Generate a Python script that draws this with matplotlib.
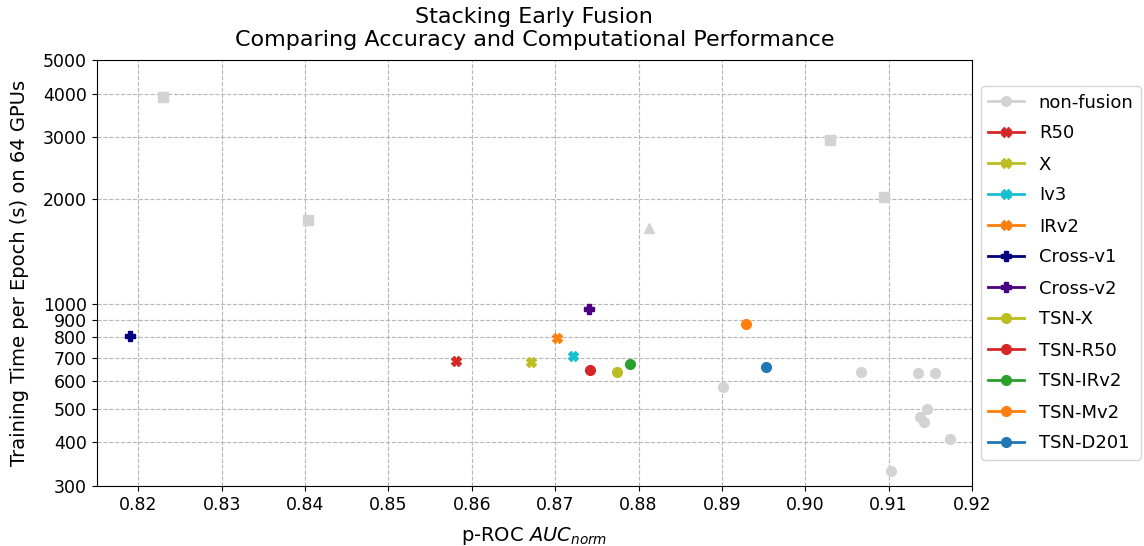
import numpy as np
import matplotlib
matplotlib.use('Agg')
import matplotlib.pyplot as plt
from matplotlib.lines import Line2D
from matplotlib.ticker import FixedLocator, NullLocator, FixedFormatter

# non-fusion baselines (grey)
nf_sq_x = [0.8230, 0.8403, 0.9030, 0.9094]
nf_sq_y = [3913, 1735, 2955, 2024]
nf_tri_x = [0.8813]
nf_tri_y = [1645]
nf_circ_x = [0.9067, 0.8901, 0.9135, 0.9156, 0.9146, 0.9138, 0.9142, 0.9174, 0.9103]
nf_circ_y = [638, 575, 631, 631, 498, 473, 458, 408, 332]

# early fusion models
names = ['R50', 'X', 'Iv3', 'IRv2', 'Cross-v1', 'Cross-v2',
         'TSN-X', 'TSN-R50', 'TSN-IRv2', 'TSN-Mv2', 'TSN-D201']
auc = [0.8581, 0.8671, 0.8721, 0.8702, 0.8190, 0.8741,
       0.8774, 0.8742, 0.8790, 0.8929, 0.8953]
time_s = [687, 679, 708, 796, 810, 967,
          638, 645, 673, 873, 660]
markers = ['X', 'X', 'X', 'X', 'P', 'P', 'o', 'o', 'o', 'o', 'o']
colors = ['tab:red', 'tab:olive', 'tab:cyan', 'tab:orange', 'navy', 'indigo',
          'tab:olive', 'tab:red', 'tab:green', 'tab:orange', 'tab:blue']

yticks = [300, 400, 500, 600, 700, 800, 900, 1000, 2000, 3000, 4000, 5000]
xticks = [0.82, 0.83, 0.84, 0.85, 0.86, 0.87, 0.88, 0.89, 0.90, 0.91, 0.92]

fig = plt.figure(figsize=(11.44, 5.46), dpi=100)
ax = fig.add_axes([96.7/1144, 60/546, (972-96.7)/1144, (486-60)/546])

grey = 'lightgrey'
ax.plot(nf_sq_x, nf_sq_y, 's', color=grey, ms=7)
ax.plot(nf_tri_x, nf_tri_y, '^', color=grey, ms=7)
ax.plot(nf_circ_x, nf_circ_y, 'o', color=grey, ms=7)

handles = [Line2D([], [], color=grey, marker='o', lw=2, ms=7, label='non-fusion')]
for n, x, y, m, c in zip(names, auc, time_s, markers, colors):
    ax.plot([x], [y], m, color=c, ms=7)
    handles.append(Line2D([], [], color=c, marker=m, lw=2, ms=7, label=n))

ax.set_yscale('log')
ax.set_xlim(0.815, 0.92)
ax.set_ylim(300, 5000)
ax.yaxis.set_major_locator(FixedLocator(yticks))
ax.yaxis.set_major_formatter(FixedFormatter([str(v) for v in yticks]))
ax.yaxis.set_minor_locator(NullLocator())
ax.set_xticks(xticks)
ax.set_xticklabels(['%.2f' % v for v in xticks])
ax.tick_params(labelsize=12.5)
ax.grid(True, linestyle='--', color='#b0b0b0', alpha=0.9)

ax.set_xlabel('p-ROC $AUC_{norm}$', fontsize=14, labelpad=8)
ax.set_ylabel('Training Time per Epoch (s) on 64 GPUs', fontsize=14, labelpad=10)
ax.set_title('Stacking Early Fusion\nComparing Accuracy and Computational Performance',
             fontsize=16, pad=10)

ax.legend(handles=handles, loc='center left', bbox_to_anchor=(1.0, 0.5),
          fontsize=13, handlelength=2.0, labelspacing=0.72)

fig.savefig('out.png', dpi=100)
